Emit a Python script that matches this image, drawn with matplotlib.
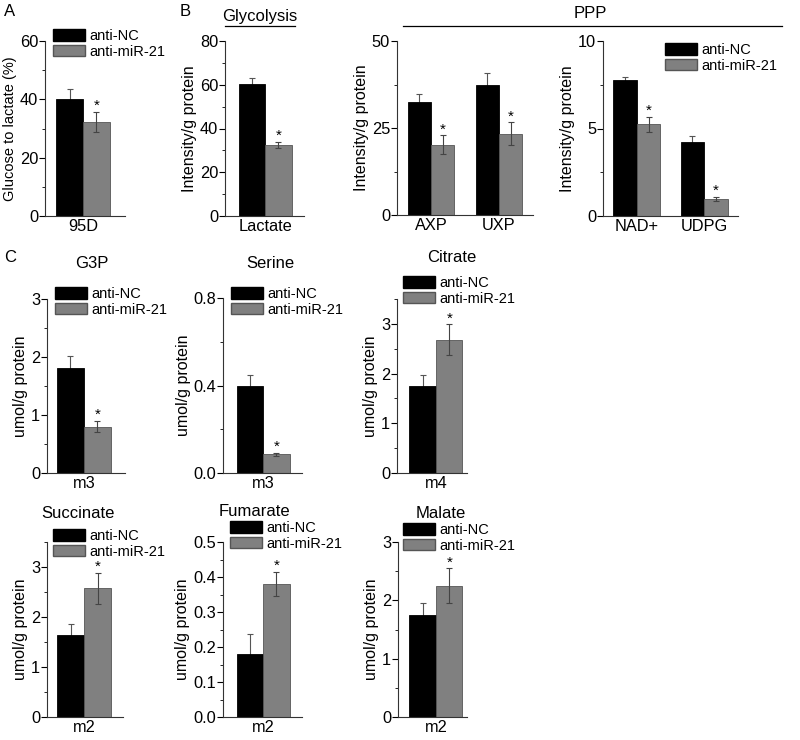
import matplotlib
matplotlib.use("Agg")
import matplotlib.pyplot as plt
from matplotlib.patches import Patch
from matplotlib.ticker import AutoMinorLocator, MultipleLocator
import numpy as np

plt.rcParams["font.family"] = ["Liberation Sans", "DejaVu Sans"]

W, H = 800, 740

groups = ["anti-NC", "anti-miR-21"]

# --- data ---
a_cats = ["95D"]
a_nc, a_nc_err = [40.0], [3.4]
a_mir, a_mir_err = [32.2], [3.5]

glyco_cats = ["Lactate"]
glyco_nc, glyco_nc_err = [60.2], [2.7]
glyco_mir, glyco_mir_err = [32.5], [1.5]

ppp1_cats = ["AXP", "UXP"]
ppp1_nc, ppp1_nc_err = [32.4, 37.4], [2.4, 3.5]
ppp1_mir, ppp1_mir_err = [20.2, 23.3], [2.7, 3.3]

ppp2_cats = ["NAD+", "UDPG"]
ppp2_nc, ppp2_nc_err = [7.78, 4.22], [0.19, 0.36]
ppp2_mir, ppp2_mir_err = [5.23, 0.99], [0.45, 0.11]

g3p_cats = ["m3"]
g3p_nc, g3p_nc_err = [1.81], [0.2]
g3p_mir, g3p_mir_err = [0.80], [0.1]

serine_cats = ["m3"]
serine_nc, serine_nc_err = [0.40], [0.05]
serine_mir, serine_mir_err = [0.086], [0.007]

citrate_cats = ["m4"]
citrate_nc, citrate_nc_err = [1.76], [0.22]
citrate_mir, citrate_mir_err = [2.68], [0.31]

succ_cats = ["m2"]
succ_nc, succ_nc_err = [1.65], [0.21]
succ_mir, succ_mir_err = [2.58], [0.31]

fum_cats = ["m2"]
fum_nc, fum_nc_err = [0.18], [0.056]
fum_mir, fum_mir_err = [0.38], [0.035]

malate_cats = ["m2"]
malate_nc, malate_nc_err = [1.75], [0.21]
malate_mir, malate_mir_err = [2.25], [0.30]

NC_COLOR = "#000000"
MIR_COLOR = "#808080"
ERR_COLOR = "#555555"

TICK_FS = 11.8
LEG_FS = 10.5
TITLE_FS = 12

fig = plt.figure(figsize=(W / 100, H / 100), dpi=100)


def make_ax(left, right, bottom, top):
    """Pixel box -> axes."""
    return fig.add_axes([left / W, 1 - bottom / H, (right - left) / W, (bottom - top) / H])


def bar_panel(box, cats, nc, nc_err, mir, mir_err, ylim, major, ylabel,
              xlim, width, ylabel_size=11.5):
    ax = make_ax(*box)
    x = np.arange(len(cats))
    ax.bar(x - width, nc, width, align="edge", color=NC_COLOR,
           edgecolor=NC_COLOR, linewidth=0.6, zorder=2)
    ax.bar(x, mir, width, align="edge", color=MIR_COLOR,
           edgecolor="#555555", linewidth=0.6, zorder=2)
    ax.errorbar(x - width / 2, nc, yerr=nc_err, fmt="none", ecolor=ERR_COLOR,
                elinewidth=0.8, capsize=2.2, capthick=0.8, zorder=1)
    ax.errorbar(x + width / 2, mir, yerr=mir_err, fmt="none", ecolor="#444444",
                elinewidth=0.8, capsize=2.2, capthick=0.8, zorder=3)
    for xi, v, e in zip(x, mir, mir_err):
        ax.annotate("*", (xi + width / 2, v + e), xytext=(0, -1),
                    textcoords="offset points", ha="center", va="bottom",
                    fontsize=11)
    ax.set_xlim(*xlim)
    ax.set_ylim(*ylim)
    ax.set_xticks(x)
    ax.set_xticklabels(cats, fontsize=TICK_FS)
    ax.yaxis.set_major_locator(MultipleLocator(major))
    ax.yaxis.set_minor_locator(AutoMinorLocator(2))
    ax.tick_params(axis="y", direction="out", length=4, width=0.8,
                   labelsize=TICK_FS, pad=1)
    ax.tick_params(axis="y", which="minor", direction="out", length=2, width=0.6)
    ax.tick_params(axis="x", length=0, pad=2)
    ax.set_ylabel(ylabel, fontsize=ylabel_size, labelpad=2)
    for s in ("top", "right"):
        ax.spines[s].set_visible(False)
    for s in ("left", "bottom"):
        ax.spines[s].set_linewidth(0.8)
        ax.spines[s].set_color("#333333")
    ax.patch.set_alpha(0)
    return ax


def add_legend(xpx, ypx):
    handles = [Patch(facecolor=NC_COLOR, edgecolor=NC_COLOR),
               Patch(facecolor=MIR_COLOR, edgecolor="#555555")]
    fig.legend(handles, groups, loc="upper left",
               bbox_to_anchor=(xpx / W, 1 - ypx / H), borderaxespad=0,
               borderpad=0, frameon=False, fontsize=LEG_FS,
               handlelength=2.2, handleheight=0.8, handletextpad=0.3,
               labelspacing=0.12)


def fig_text(xpx, ypx, s, size=TITLE_FS, **kw):
    fig.text(xpx / W, 1 - ypx / H, s, fontsize=size, va="center", **kw)


# --- A ---
bar_panel((45, 125, 216, 41), a_cats, a_nc, a_nc_err, a_mir, a_mir_err,
          (0, 60), 20, "Glucose to lactate (%)", (-1.43, 1.58), 1.0, 10.5)
add_legend(53, 29)

# --- B ---
bar_panel((225, 304, 216, 41), glyco_cats, glyco_nc, glyco_nc_err,
          glyco_mir, glyco_mir_err, (0, 80), 20, "Intensity/g protein",
          (-1.51, 1.47), 1.0)
bar_panel((397, 533, 215, 41), ppp1_cats, ppp1_nc, ppp1_nc_err,
          ppp1_mir, ppp1_mir_err, (0, 50), 25, "Intensity/g protein",
          (-0.5, 1.5), 0.345)
bar_panel((603, 738, 216, 41), ppp2_cats, ppp2_nc, ppp2_nc_err,
          ppp2_mir, ppp2_mir_err, (0, 10), 5, "Intensity/g protein",
          (-0.5, 1.5), 0.35)
add_legend(665, 43)

fig_text(260, 16, "Glycolysis", ha="center")
fig.add_artist(plt.Line2D([225 / W, 295 / W], [1 - 26 / H, 1 - 26 / H],
                          color="black", lw=0.9))
fig_text(590, 13, "PPP", ha="center")
fig.add_artist(plt.Line2D([403 / W, 782 / W], [1 - 26 / H, 1 - 26 / H],
                          color="black", lw=0.9))

# --- C ---
bar_panel((47, 125, 473, 299), g3p_cats, g3p_nc, g3p_nc_err, g3p_mir,
          g3p_mir_err, (0, 3), 1, "umol/g protein", (-1.37, 1.52), 1.0)
add_legend(55, 287)
fig_text(92, 264, "G3P", ha="center")

bar_panel((223, 302, 473, 298), serine_cats, serine_nc, serine_nc_err,
          serine_mir, serine_mir_err, (0, 0.8), 0.4, "umol/g protein",
          (-1.51, 1.47), 1.0)
add_legend(231, 287)
fig_text(270, 264, "Serine", ha="center")

bar_panel((397, 467, 473, 299), citrate_cats, citrate_nc, citrate_nc_err,
          citrate_mir, citrate_mir_err, (0, 3.5), 1, "umol/g protein",
          (-1.47, 1.17), 1.0)
add_legend(403, 276)
fig_text(452, 257, "Citrate", ha="center")

bar_panel((47, 123, 717, 542), succ_cats, succ_nc, succ_nc_err, succ_mir,
          succ_mir_err, (0, 3.5), 1, "umol/g protein", (-1.37, 1.44), 1.0)
add_legend(53, 529)
fig_text(78, 514, "Succinate", ha="center")

bar_panel((223, 302, 717, 542), fum_cats, fum_nc, fum_nc_err, fum_mir,
          fum_mir_err, (0, 0.5), 0.1, "umol/g protein", (-1.51, 1.47), 1.0)
add_legend(230, 521)
fig_text(254, 511, "Fumarate", ha="center")

bar_panel((398, 467, 717, 542), malate_cats, malate_nc, malate_nc_err,
          malate_mir, malate_mir_err, (0, 3), 1, "umol/g protein",
          (-1.43, 1.17), 1.0)
add_legend(403, 523)
fig_text(441, 513, "Malate", ha="center")

# panel letters
fig_text(10, 12, "A", ha="center")
fig_text(185, 12, "B", ha="center")
fig_text(10, 258, "C", ha="center")

fig.savefig("out.png", dpi=100)
